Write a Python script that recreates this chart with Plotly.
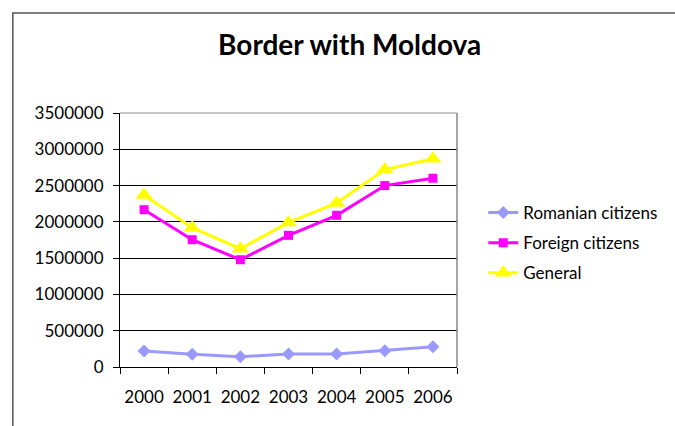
import plotly.graph_objects as go

years = ["2000", "2001", "2002", "2003", "2004", "2005", "2006"]
romanian = [220000, 175000, 142000, 180000, 180000, 225000, 280000]
foreign = [2168000, 1754000, 1478000, 1814000, 2090000, 2500000, 2601000]
general = [2370000, 1920000, 1630000, 1990000, 2260000, 2720000, 2870000]
y_ticks = [0, 500000, 1000000, 1500000, 2000000, 2500000, 3000000, 3500000]

FONT = "Lato"
fig = go.Figure()
fig.add_trace(go.Scatter(x=years, y=romanian, name="Romanian citizens", mode="lines+markers",
                         line=dict(color="#9999FF", width=3),
                         marker=dict(symbol="diamond", size=10, color="#9999FF"),
                         legendgroup="a"))
fig.add_trace(go.Scatter(x=years, y=foreign, name="Foreign citizens", mode="lines+markers",
                         line=dict(color="#FF00FF", width=3),
                         marker=dict(symbol="square", size=9, color="#FF00FF"),
                         legendgroup="b"))
fig.add_trace(go.Scatter(x=years, y=general, name="General", mode="lines+markers",
                         line=dict(color="#FFFF00", width=3),
                         marker=dict(symbol="triangle-up", size=15, color="#FFFF00"),
                         legendgroup="c"))

fig.update_layout(
    width=675, height=426,
    margin=dict(l=120, r=218, t=113, b=59),
    paper_bgcolor="white", plot_bgcolor="white",
    font=dict(family=FONT, size=17, color="black"),
    title=dict(text="<b>Border with Moldova</b>", x=0.518, xanchor="center",
               y=0.893, yanchor="middle", font=dict(family=FONT, size=28, color="black"),
               automargin=False),
    showlegend=True,
    legend=dict(x=1.078, y=0.488, xanchor="left", yanchor="middle",
                traceorder="grouped", tracegroupgap=5,
                font=dict(family=FONT, size=17, color="black"),
                bgcolor="rgba(0,0,0,0)"),
    xaxis=dict(type="category", tickson="boundaries", ticks="outside", ticklen=6,
               tickcolor="black", showline=True, linecolor="black", linewidth=1,
               showgrid=False, mirror=False, tickfont=dict(size=17), range=[-0.5, 6.5],
               ticklabelstandoff=15, tickangle=0, automargin=False),
    yaxis=dict(range=[0, 3500000], tickvals=y_ticks, ticktext=[str(v) for v in y_ticks],
               ticks="outside", ticklen=6, tickcolor="black",
               showline=True, linecolor="black", linewidth=1,
               showgrid=True, gridcolor="black", gridwidth=1, zeroline=False,
               tickfont=dict(size=17), ticklabelstandoff=6, automargin=False),
    shapes=[
        dict(type="rect", xref="paper", yref="paper", x0=-0.318, x1=2.0, y0=-1.0, y1=1.394,
             line=dict(color="#555555", width=1.5), fillcolor="rgba(0,0,0,0)", layer="below"),
        dict(type="line", xref="paper", yref="paper", x0=0, x1=1, y0=1, y1=1,
             line=dict(color="#888888", width=1)),
        dict(type="line", xref="paper", yref="paper", x0=1, x1=1, y0=0, y1=1,
             line=dict(color="#888888", width=1.5)),
    ],
)

fig.write_html("out.html")
